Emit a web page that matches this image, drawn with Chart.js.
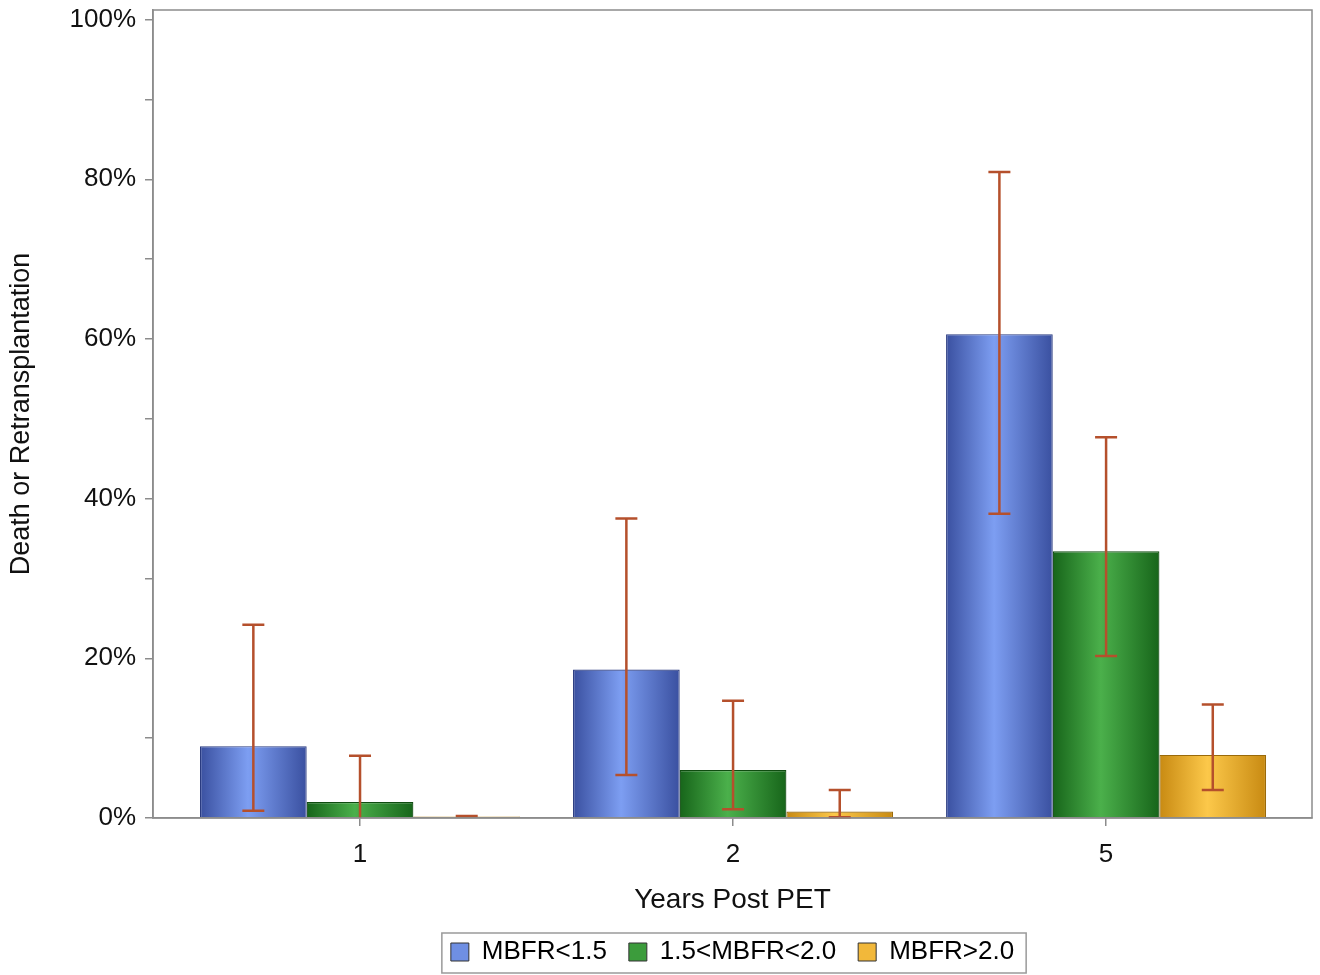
<!DOCTYPE html>
<html lang="en">
<head>
<meta charset="UTF-8">
<title>Death or Retransplantation by MBFR</title>
<script src="https://cdn.jsdelivr.net/npm/chart.js"></script>
<style>
  html, body { margin: 0; padding: 0; background: #fff; }
  .chart-container { width: 1320px; height: 975px; position: relative; }
</style>
</head>
<body>
<div class="chart-container">
  <canvas id="mbfrChart"></canvas>
</div>
<script>
// ======= Datos =======
const years = ['1', '2', '5'];
const seriesNames = ['MBFR<1.5', '1.5<MBFR<2.0', 'MBFR>2.0'];

const mbfrLow  = [9.0, 18.6, 60.6];
const mbfrMid  = [2.0, 6.0, 33.4];
const mbfrHigh = [0.2, 0.8, 7.9];

// intervalos (inferior / superior)
const mbfrLowLower  = [0.9, 5.4, 38.1];
const mbfrLowUpper  = [24.2, 37.5, 80.9];
const mbfrMidLower  = [0.0, 1.1, 20.3];
const mbfrMidUpper  = [7.8, 14.7, 47.7];
const mbfrHighLower = [0.25, 0.1, 3.5];
const mbfrHighUpper = [0.25, 3.5, 14.2];

const yTicks = [0, 10, 20, 30, 40, 50, 60, 70, 80, 90, 100];

// ======= Estilos =======
const palette = [
    { edge: '#3a50a0', mid: '#7d9ef2', border: '#2a3b80', swatch: '#6f8fe3' },
    { edge: '#17651a', mid: '#4bb04b', border: '#0f4c10', swatch: '#3c9c3c' },
    { edge: '#c88a12', mid: '#fcc84a', border: '#9a6a0a', swatch: '#f2b83a' }
];
const errColor = '#b5502c';
const frameColor = '#8c8c8c';
const fontFamily = '"Liberation Sans", Arial, sans-serif';

const values = [mbfrLow, mbfrMid, mbfrHigh];
const lowers = [mbfrLowLower, mbfrMidLower, mbfrHighLower];
const uppers = [mbfrLowUpper, mbfrMidUpper, mbfrHighUpper];

function crearDataset(i) {
    return {
        label: seriesNames[i],
        data: values[i].map((v, j) => ({ x: j, y: v })),
        backgroundColor: palette[i].mid,
        borderColor: palette[i].border,
        borderWidth: 1.2,
        barPercentage: 1.0,
        categoryPercentage: 0.858
    };
}

// gradiente horizontal en cada barra
const gradientBars = {
    id: 'gradientBars',
    beforeDatasetsDraw(chart) {
        const ctx = chart.ctx;
        chart.data.datasets.forEach((ds, i) => {
            chart.getDatasetMeta(i).data.forEach(bar => {
                const x0 = bar.x - bar.width / 2;
                const g = ctx.createLinearGradient(x0, 0, x0 + bar.width, 0);
                g.addColorStop(0, palette[i].edge);
                g.addColorStop(0.45, palette[i].mid);
                g.addColorStop(1, palette[i].edge);
                bar.options = Object.assign({}, bar.options, { backgroundColor: g });
            });
        });
    }
};

// barras de error
const errorBars = {
    id: 'errorBars',
    afterDatasetsDraw(chart) {
        const ctx = chart.ctx;
        const y = chart.scales.y;
        ctx.save();
        ctx.strokeStyle = errColor;
        ctx.lineWidth = 2.5;
        chart.data.datasets.forEach((ds, i) => {
            chart.getDatasetMeta(i).data.forEach((bar, j) => {
                const yt = y.getPixelForValue(uppers[i][j]);
                const yb = y.getPixelForValue(lowers[i][j]);
                const cap = 11;
                ctx.beginPath();
                ctx.moveTo(bar.x, yt); ctx.lineTo(bar.x, yb);
                ctx.moveTo(bar.x - cap, yt); ctx.lineTo(bar.x + cap, yt);
                if (lowers[i][j] > 0) {
                    ctx.moveTo(bar.x - cap, yb); ctx.lineTo(bar.x + cap, yb);
                }
                ctx.stroke();
            });
        });
        ctx.restore();
    }
};

// marco del área y borde de la leyenda
const frame = {
    id: 'frame',
    afterDraw(chart) {
        const ctx = chart.ctx;
        const a = chart.chartArea;
        ctx.save();
        ctx.strokeStyle = frameColor;
        ctx.lineWidth = 1.5;
        ctx.strokeRect(a.left, a.top, a.right - a.left, a.bottom - a.top);

        const boxes = chart.legend.legendHitBoxes;
        if (boxes && boxes.length) {
            const l = Math.min(...boxes.map(b => b.left)) - 9;
            const r = Math.max(...boxes.map(b => b.left + b.width)) + 12;
            const t = boxes[0].top - 6;
            const h = boxes[0].height + 14;
            ctx.strokeStyle = '#9a9a9a';
            ctx.strokeRect(l, t, r - l, h);
        }
        ctx.restore();
    }
};

new Chart(document.getElementById('mbfrChart'), {
    type: 'bar',
    data: {
        datasets: [crearDataset(0), crearDataset(1), crearDataset(2)]
    },
    options: {
        responsive: true,
        maintainAspectRatio: false,
        animation: false,
        layout: { padding: { top: 10, right: 8, left: 0, bottom: 0 } },
        plugins: {
            tooltip: { enabled: false },
            legend: {
                position: 'bottom',
                fullSize: false,
                labels: {
                    color: '#111',
                    font: { family: fontFamily, size: 26 },
                    boxWidth: 18,
                    boxHeight: 18,
                    padding: 22,
                    generateLabels: chart => seriesNames.map((name, i) => ({
                        text: name,
                        fillStyle: palette[i].swatch,
                        strokeStyle: '#333',
                        lineWidth: 1,
                        datasetIndex: i
                    }))
                }
            }
        },
        scales: {
            x: {
                type: 'linear',
                min: -0.555,
                max: 2.552,
                offset: false,
                afterBuildTicks: s => { s.ticks = years.map((v, j) => ({ value: j })); },
                afterFit: s => { s.height = 99; s.paddingLeft = 0; s.paddingRight = 0; },
                ticks: {
                    callback: v => years[v],
                    color: '#111',
                    font: { family: fontFamily, size: 26 },
                    padding: 13
                },
                grid: { display: true, offset: false, drawOnChartArea: false, tickLength: 8, color: frameColor, lineWidth: 1.5 },
                border: { display: true, color: frameColor, width: 1.5 },
                title: {
                    display: true,
                    text: 'Years Post PET',
                    color: '#111',
                    font: { family: fontFamily, size: 28 },
                    padding: { top: 4, bottom: 0 }
                }
            },
            y: {
                min: 0,
                max: 101.2,
                afterBuildTicks: s => { s.ticks = yTicks.map(v => ({ value: v })); },
                afterFit: s => { s.width = 153; s.paddingTop = 0; s.paddingBottom = 0; },
                ticks: {
                    callback: v => (v % 20 === 0 ? v + '%' : ''),
                    color: '#111',
                    font: { family: fontFamily, size: 26 },
                    padding: 9
                },
                grid: { display: true, drawOnChartArea: false, tickLength: 8, color: frameColor, lineWidth: 1.5 },
                border: { display: true, color: frameColor, width: 1.5 },
                title: {
                    display: true,
                    text: 'Death or Retransplantation',
                    color: '#111',
                    font: { family: fontFamily, size: 27 },
                    padding: { top: 5, bottom: 0 }
                }
            }
        }
    },
    plugins: [gradientBars, errorBars, frame]
});
</script>
</body>
</html>
